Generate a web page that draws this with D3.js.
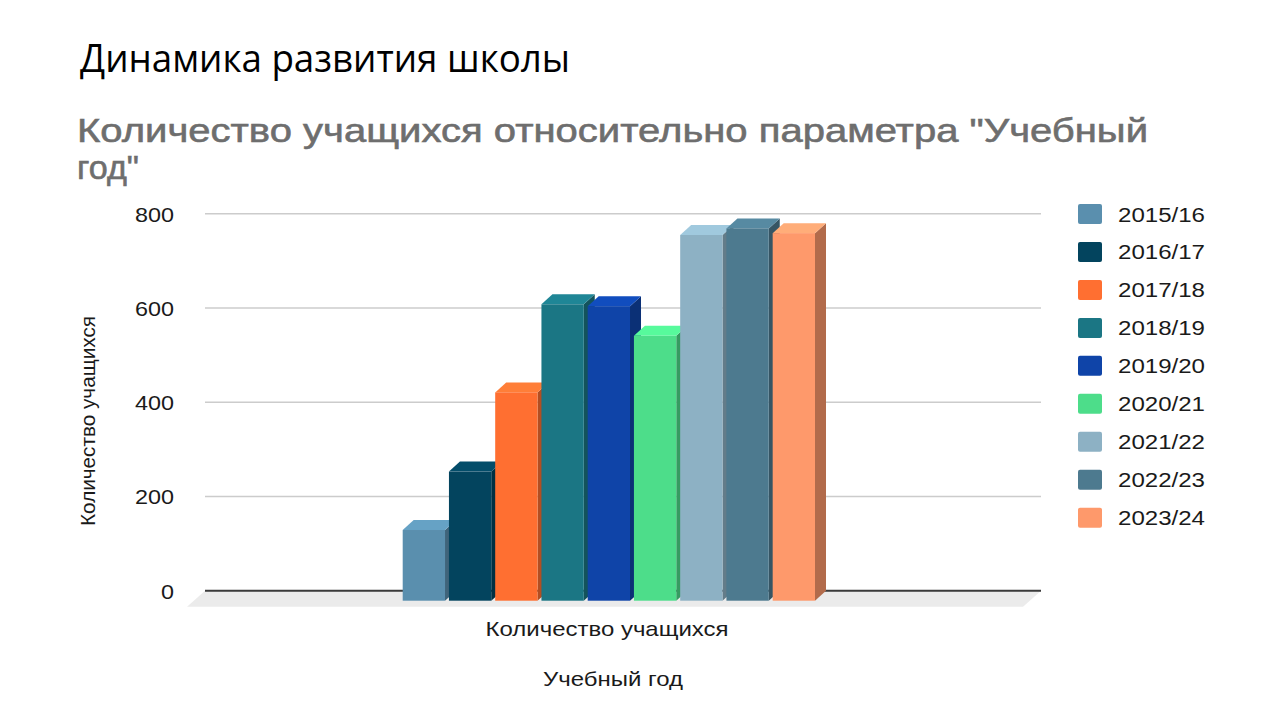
<!DOCTYPE html>
<html>
<head>
<meta charset="utf-8">
<script src="https://cdn.jsdelivr.net/npm/d3@7"></script>
<style>
  html, body { margin: 0; padding: 0; background: #fff; }
  svg { display: block; }
</style>
</head>
<body>
<svg id="chart" width="1280" height="720"></svg>
<script>
// ---- data ----
const years = ["2015/16","2016/17","2017/18","2018/19","2019/20","2020/21","2021/22","2022/23","2023/24"];
const students = [150, 274, 442, 629, 625, 562, 776, 790, 780];
const colors = ["#5a8fae","#03445e","#ff6f31","#1b7684","#0f44a8","#4ddd8a","#8db1c4","#4d7a8f","#fe996b"];
const yTicks = [0, 200, 400, 600, 800];
const mainTitle = "Динамика развития школы";
const chartTitle1 = "Количество учащихся относительно параметра \"Учебный";
const chartTitle2 = "год\"";
const yTitle = "Количество учащихся";
const categoryLabel = "Количество учащихся";
const xTitle = "Учебный год";

const svg = d3.select("#chart");
const DX = 11, DY = 10; // 3D depth offset (front face is shifted left/down)

const y = d3.scaleLinear().domain([0, 800]).range([590.7, 213.7]);
const x = d3.scaleBand().domain(years).range([402.7, 815]).paddingInner(0.085).paddingOuter(0);
const color = d3.scaleOrdinal().domain(years).range(colors);
const gridX0 = 205, gridX1 = 1041;

// Titles
svg.append("text").attr("x", 80).attr("y", 72)
  .attr("font-family", "'Open Sans', 'Noto Sans', sans-serif").attr("font-size", 38)
  .attr("fill", "#000").attr("textLength", 490).attr("lengthAdjust", "spacingAndGlyphs")
  .text(mainTitle);
svg.append("text").attr("x", 77).attr("y", 142)
  .attr("font-family", "'Liberation Sans', Arial, sans-serif").attr("font-size", 34)
  .attr("fill", "#6e6e6e").attr("stroke", "#6e6e6e").attr("stroke-width", 0.6)
  .attr("textLength", 1071).attr("lengthAdjust", "spacingAndGlyphs")
  .text(chartTitle1);
svg.append("text").attr("x", 77).attr("y", 179)
  .attr("font-family", "'Liberation Sans', Arial, sans-serif").attr("font-size", 34)
  .attr("fill", "#6e6e6e").attr("stroke", "#6e6e6e").attr("stroke-width", 0.6)
  .attr("textLength", 62).attr("lengthAdjust", "spacingAndGlyphs")
  .text(chartTitle2);

// Floor
const y0 = y(0);
svg.append("path")
  .attr("d", `M${gridX0},${y0} L${gridX1},${y0} L${gridX1 - 18},${y0 + 16} L${gridX0 - 18},${y0 + 16} Z`)
  .attr("fill", "#ebebeb");

// Gridlines
svg.append("g").selectAll("line").data(yTicks.filter(d => d > 0)).join("line")
  .attr("x1", gridX0).attr("x2", gridX1)
  .attr("y1", d => y(d)).attr("y2", d => y(d))
  .attr("stroke", "#cccccc").attr("stroke-width", 1.5);
svg.append("line").attr("x1", gridX0).attr("x2", gridX1).attr("y1", y0).attr("y2", y0)
  .attr("stroke", "#3a3a3a").attr("stroke-width", 2);

// Y axis labels
const yAxis = d3.axisLeft(y).tickValues(yTicks).tickSize(0).tickPadding(31).tickFormat(d3.format("d"));
const ga = svg.append("g").attr("transform", `translate(${gridX0},0)`).call(yAxis);
ga.select(".domain").remove();
ga.selectAll("text").attr("font-family", "'Liberation Sans', Arial, sans-serif")
  .attr("font-size", 21).attr("fill", "#1a1a1a").attr("dy", "0.35em")
  .each(function() { const t = d3.select(this); t.attr("textLength", t.text().length * 13).attr("lengthAdjust", "spacingAndGlyphs"); });

// Bars
const w = x.bandwidth();
const bars = svg.append("g").selectAll("g").data(years.map((c, i) => ({c, v: students[i]}))).join("g");
bars.append("path") // side
  .attr("d", d => { const x0 = x(d.c) + w, yt = y(d.v);
    return `M${x0},${yt + DY} L${x0 + DX},${yt} L${x0 + DX},${y0} L${x0},${y0 + DY} Z`; })
  .attr("fill", d => d3.color(color(d.c)).darker(1.0));
bars.append("path") // top
  .attr("d", d => { const x0 = x(d.c), yt = y(d.v);
    return `M${x0},${yt + DY} L${x0 + DX},${yt} L${x0 + w + DX},${yt} L${x0 + w},${yt + DY} Z`; })
  .attr("fill", d => d3.color(color(d.c)).brighter(0.35));
bars.append("rect") // front
  .attr("x", d => x(d.c)).attr("y", d => y(d.v) + DY)
  .attr("width", w).attr("height", d => y0 - y(d.v))
  .attr("fill", d => color(d.c));

// Category label + axis titles
svg.append("text").attr("x", 607).attr("y", 636).attr("text-anchor", "middle")
  .attr("font-family", "'Liberation Sans', Arial, sans-serif").attr("font-size", 21)
  .attr("fill", "#1a1a1a").attr("textLength", 243).attr("lengthAdjust", "spacingAndGlyphs")
  .text(categoryLabel);
svg.append("text").attr("x", 613).attr("y", 686).attr("text-anchor", "middle")
  .attr("font-family", "'Liberation Sans', Arial, sans-serif").attr("font-size", 20)
  .attr("fill", "#1a1a1a").attr("textLength", 140).attr("lengthAdjust", "spacingAndGlyphs")
  .text(xTitle);
svg.append("text").attr("transform", "translate(95,421) rotate(-90)").attr("text-anchor", "middle")
  .attr("font-family", "'Liberation Sans', Arial, sans-serif").attr("font-size", 20)
  .attr("fill", "#1a1a1a").attr("textLength", 210).attr("lengthAdjust", "spacingAndGlyphs")
  .text(yTitle);

// Legend
const lg = svg.append("g").selectAll("g").data(years).join("g")
  .attr("transform", (d, i) => `translate(1078,${204 + i * 37.96})`);
lg.append("rect").attr("width", 24).attr("height", 20).attr("rx", 2)
  .attr("fill", d => color(d));
lg.append("text").attr("x", 40).attr("y", 17.5)
  .attr("font-family", "'Liberation Sans', Arial, sans-serif").attr("font-size", 20)
  .attr("fill", "#1a1a1a").attr("textLength", 87).attr("lengthAdjust", "spacingAndGlyphs")
  .text(d => d);
</script>
</body>
</html>
